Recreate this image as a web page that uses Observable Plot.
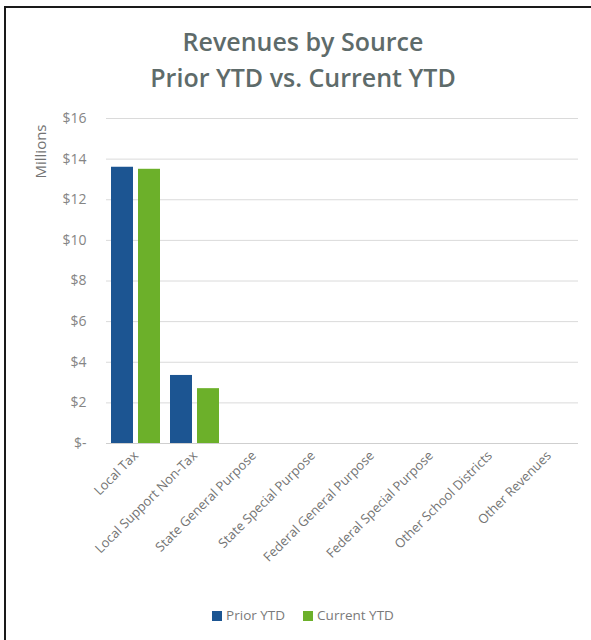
<!DOCTYPE html>
<html>
<head>
<meta charset="utf-8">
<script src="https://cdn.jsdelivr.net/npm/d3@7"></script>
<script src="https://cdn.jsdelivr.net/npm/@observablehq/plot@0.6"></script>
<style>
  html, body { margin: 0; padding: 0; background: #fff; overflow: hidden; width: 591px; height: 640px; }
  #frame { position: absolute; left: 4px; top: 6px; width: 620px; height: 660px; border-left: 2px solid #1a1a1a; border-top: 2px solid #1a1a1a; }
  #title { position: absolute; left: 0; width: 606px; top: 23px; text-align: center; font-family: "Open Sans", sans-serif; font-size: 25px; font-weight: 600; line-height: 36px; color: #5e6b6a; }
  #chart { position: absolute; left: 0; top: 100px; }
  #legend { position: absolute; top: 606px; left: 0; width: 606px; display: flex; justify-content: center; gap: 18px; font-family: "Open Sans", sans-serif; font-size: 13.5px; color: #7a7a7a; }
  #legend span.sw { display: inline-block; width: 10px; height: 10px; margin-right: 4px; vertical-align: -1px; }
</style>
</head>
<body>
<div id="frame"></div>
<div id="title">Revenues by Source<br>Prior YTD vs. Current YTD</div>
<div id="chart"></div>
<div id="legend"></div>
<script>
const categories = ["Local Tax", "Local Support Non-Tax", "State General Purpose", "State Special Purpose", "Federal General Purpose", "Federal Special Purpose", "Other School Districts", "Other Revenues"];
const series = ["Prior YTD", "Current YTD"];
const priorYTD = [13.6, 3.35, 0, 0, 0, 0, 0, 0];
const currentYTD = [13.5, 2.7, 0, 0, 0, 0, 0, 0];
const yTicks = [0, 2, 4, 6, 8, 10, 12, 14, 16];
const colors = ["#1c5592", "#6cb02a"];

const data = [];
categories.forEach((c, i) => {
  data.push({category: c, series: series[0], value: priorYTD[i]});
  data.push({category: c, series: series[1], value: currentYTD[i]});
});

const chart = Plot.plot({
  width: 591,
  height: 483,
  marginLeft: 106,
  marginRight: 13,
  marginTop: 18,
  marginBottom: 140,
  style: {fontFamily: "'Open Sans', sans-serif", fontSize: "13px", color: "#737373", background: "transparent"},
  fx: {domain: categories, padding: 0, label: null, axis: "bottom", tickRotate: -45, tickSize: 0, tickPadding: 10},
  x: {domain: series, padding: 0.185, axis: null},
  y: {domain: [0, 16], ticks: yTicks, tickFormat: d => d === 0 ? "$-" : "$" + d, tickSize: 0, tickPadding: 20, label: null},
  color: {domain: series, range: colors},
  marks: [
    Plot.ruleY(yTicks.filter(d => d > 0), {stroke: "#dadada", strokeWidth: 1}),
    Plot.ruleY([0], {stroke: "#cfcfcf", strokeWidth: 1}),
    Plot.barY(data, {fx: "category", x: "series", y: "value", fill: "series"}),
    Plot.text(["Millions"], {fx: () => categories[0], frameAnchor: "top-left", textAnchor: "middle", lineAnchor: "middle", dx: -65, dy: 33, rotate: -90, fontSize: 15, fill: "#737373", text: d => d})
  ]
});
chart.querySelectorAll("[aria-label='y-axis tick label']").forEach(g => { g.setAttribute("font-size", "14"); g.setAttribute("fill", "#858585"); });
document.getElementById("chart").appendChild(chart);

const legend = document.getElementById("legend");
series.forEach((s, i) => {
  const item = document.createElement("div");
  item.innerHTML = `<span class="sw" style="background:${colors[i]}"></span>${s}`;
  legend.appendChild(item);
});
</script>
</body>
</html>
